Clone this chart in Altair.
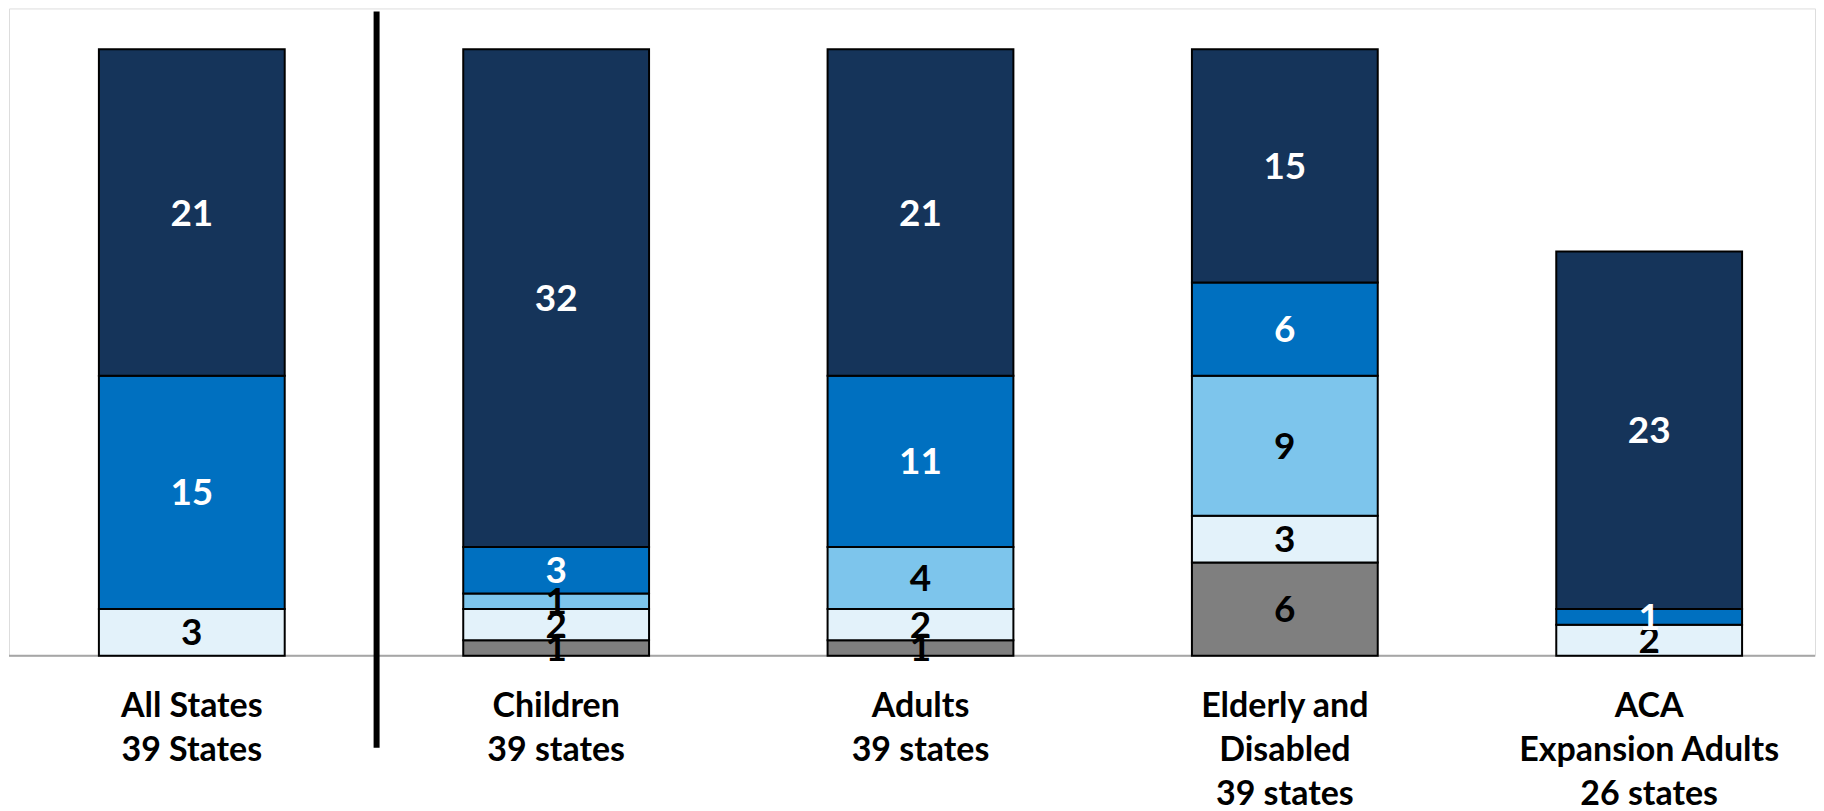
import altair as alt
import pandas as pd

categories = ["All States\n39 States", "Children\n39 states", "Adults\n39 states",
              "Elderly and\nDisabled\n39 states", "ACA\nExpansion Adults\n26 states"]
series = ["Group 1", "Group 2", "Group 3", "Group 4", "Group 5"]  # bottom -> top
group1 = [0, 1, 1, 6, 0]    # gray
group2 = [3, 2, 2, 3, 2]    # very light blue
group3 = [0, 1, 4, 9, 0]    # light blue
group4 = [15, 3, 11, 6, 1]  # medium blue
group5 = [21, 32, 21, 15, 23]  # dark navy

fill_colors = ["#7F7F7F", "#E3F2FA", "#7DC5EC", "#0070C0", "#15345A"]
text_colors = ["#000000", "#000000", "#000000", "#FFFFFF", "#FFFFFF"]

rows = []
for ci, cat in enumerate(categories):
    base = 0
    for si, vals in enumerate([group1, group2, group3, group4, group5]):
        v = vals[ci]
        if v > 0:
            rows.append({"category": cat, "series": series[si], "order": si,
                         "value": v, "mid": base + v / 2})
        base += v
df = pd.DataFrame(rows)

W, H = 1808, 648
x_scale = alt.Scale(domain=categories, range=[90, 1735], paddingInner=0.49, paddingOuter=0)
y_scale = alt.Scale(domain=[0, 41.63], nice=False, zero=True)

base_chart = alt.Chart(df)

baseline = alt.Chart(pd.DataFrame({"a": [0]})).mark_rule(color="#A6A6A6", strokeWidth=2).encode(
    x=alt.value(0), x2=alt.value(W), y=alt.value(H)
)

bars = base_chart.mark_bar(stroke="#000000", strokeWidth=2).encode(
    x=alt.X("category:N", scale=x_scale, sort=categories,
            axis=alt.Axis(title=None, domain=False, ticks=False, tickSize=0,
                          labelAngle=0, labelFont="Lato", labelFontWeight="bold",
                          labelFontSize=34, labelColor="#000000", labelPadding=34,
                          labelLineHeight=44, labelLimit=0,
                          labelExpr="split(datum.label, '\\n')")),
    y=alt.Y("value:Q", stack="zero", scale=y_scale, axis=None),
    color=alt.Color("series:N", scale=alt.Scale(domain=series, range=fill_colors), legend=None),
    order=alt.Order("order:Q"),
)

labels = base_chart.mark_text(font="Lato", fontWeight="bold", fontSize=37, baseline="middle", dy=2).encode(
    x=alt.X("category:N", scale=x_scale, sort=categories),
    y=alt.Y("mid:Q", scale=y_scale),
    text=alt.Text("value:Q"),
    color=alt.Color("series:N", scale=alt.Scale(domain=series, range=text_colors), legend=None),
)

divider = alt.Chart(pd.DataFrame({"a": [0]})).mark_rule(color="#000000", strokeWidth=6).encode(
    x=alt.value(368), y=alt.value(3), y2=alt.value(740)
)

chart = alt.layer(baseline, bars, labels, divider).resolve_scale(color="independent").properties(
    width=W, height=H, padding=0
).configure_view(stroke=None, strokeWidth=0).configure(background="#FFFFFF")

chart.save("out.html", embed_options={"renderer": "svg", "actions": False})
